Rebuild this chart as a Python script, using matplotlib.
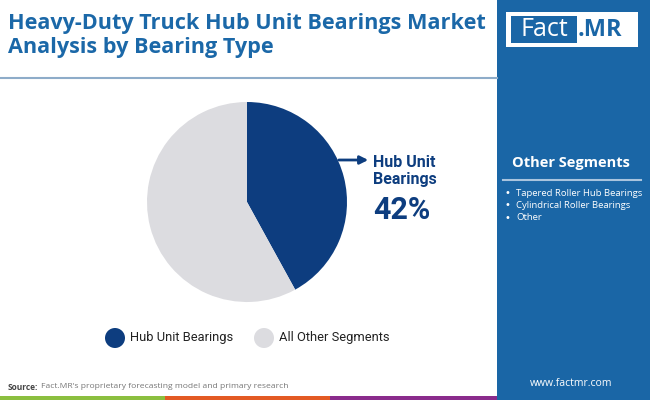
import matplotlib
matplotlib.use("Agg")
import matplotlib.pyplot as plt
from matplotlib.patches import Rectangle, Circle

# Data
categories = ["Hub Unit Bearings", "All Other Segments"]
shares = [42, 58]
other_segments = ["Tapered Roller Hub Bearings", "Cylindrical Roller Bearings", "Other"]
title_lines = ["Heavy-Duty Truck Hub Unit Bearings Market", "Analysis by Bearing Type"]
highlight_label = "Hub Unit\nBearings"
highlight_value = "42%"

NAVY = "#0d3d7f"
GRAY = "#dcdce0"
BLUE = "#1b68a8"
PANEL = "#1a66a6"

W, H = 650, 400
fig = plt.figure(figsize=(W / 100, H / 100), dpi=100)
fig.patch.set_facecolor("white")

# overlay axes in pixel coords
ov = fig.add_axes([0, 0, 1, 1])
ov.set_xlim(0, W)
ov.set_ylim(H, 0)
ov.axis("off")

# right panel
ov.add_patch(Rectangle((497, 0), W - 497, H, facecolor=PANEL, edgecolor="none"))
# logo
ov.add_patch(Rectangle((506, 12), 132, 35, facecolor="white", edgecolor="none"))
ov.add_patch(Rectangle((511, 16), 66, 27, facecolor=PANEL, edgecolor="none"))
ov.text(544, 30, "Fact", color="white", fontsize=18, family="Open Sans",
        ha="center", va="center")
ov.text(578, 30, ".MR", color=PANEL, fontsize=17, family="Open Sans",
        fontweight="bold", ha="left", va="center")

# other segments
ov.text(571, 163, "Other Segments", color="white", fontsize=10.5, family="Open Sans",
        fontweight="bold", ha="center", va="center")
ov.plot([503, 641], [180, 180], color="#a9c4de", lw=1.5)
for i, s in enumerate(other_segments):
    y = 193 + i * 12.5
    ov.text(504, y, "•", color="white", fontsize=7, ha="left", va="center")
    ov.text(516, y, s, color="white", fontsize=6.8, family="Open Sans",
            ha="left", va="center")
ov.text(571, 383, "www.factmr.com", color="white", fontsize=7.5, family="Open Sans",
        ha="center", va="center")

# title
ov.text(8, 24, title_lines[0], color=BLUE, fontsize=15.6, family="Open Sans",
        fontweight="bold", ha="left", va="center")
ov.text(8, 47, title_lines[1], color=BLUE, fontsize=15.6, family="Open Sans",
        fontweight="bold", ha="left", va="center")
ov.plot([0, 497], [78, 78], color="#8eacc9", lw=1.5)

# bottom stripes
ov.add_patch(Rectangle((0, 396), 165, 4, facecolor="#8bbf3f", edgecolor="none"))
ov.add_patch(Rectangle((165, 396), 165, 4, facecolor="#e35a24", edgecolor="none"))
ov.add_patch(Rectangle((330, 396), 167, 4, facecolor="#8a2b8c", edgecolor="none"))

# source
ov.text(8, 387, "Source:", color="#444444", fontsize=6, family="Open Sans",
        fontweight="bold", ha="left", va="center")
ov.text(41, 387, "Fact.MR's proprietary forecasting model and primary research",
        color="#777777", fontsize=6.1, family="Open Sans", ha="left", va="center")

# legend
ov.add_patch(Circle((115, 338), 10, facecolor=NAVY, edgecolor="none"))
ov.text(130, 338, categories[0], color="#222222", fontsize=9.3, family="Roboto",
        ha="left", va="center")
ov.add_patch(Circle((264, 338), 10, facecolor=GRAY, edgecolor="none"))
ov.text(279, 338, categories[1], color="#222222", fontsize=9.3, family="Roboto",
        ha="left", va="center")

# arrow + highlight label
ov.annotate("", xy=(371, 160), xytext=(336, 160),
            arrowprops=dict(arrowstyle="-|>", color=NAVY, lw=2, mutation_scale=12))
ov.text(373, 171, highlight_label, color=NAVY, fontsize=11.5, family="Roboto",
        fontweight="bold", ha="left", va="center", linespacing=1.1)
ov.text(373, 210, highlight_value, color=NAVY, fontsize=22, family="Roboto",
        fontweight="bold", ha="left", va="center")

# pie
cx, cy, r = 247, 202, 100
pax = fig.add_axes([(cx - r) / W, (H - cy - r) / H, 2 * r / W, 2 * r / H])
pax.pie(shares, colors=[NAVY, GRAY], startangle=90, counterclock=False, radius=1,
        wedgeprops=dict(linewidth=0))
pax.set_xlim(-1, 1)
pax.set_ylim(-1, 1)
pax.set_aspect("equal")
pax.axis("off")

fig.savefig("out.png", dpi=100, facecolor="white")
